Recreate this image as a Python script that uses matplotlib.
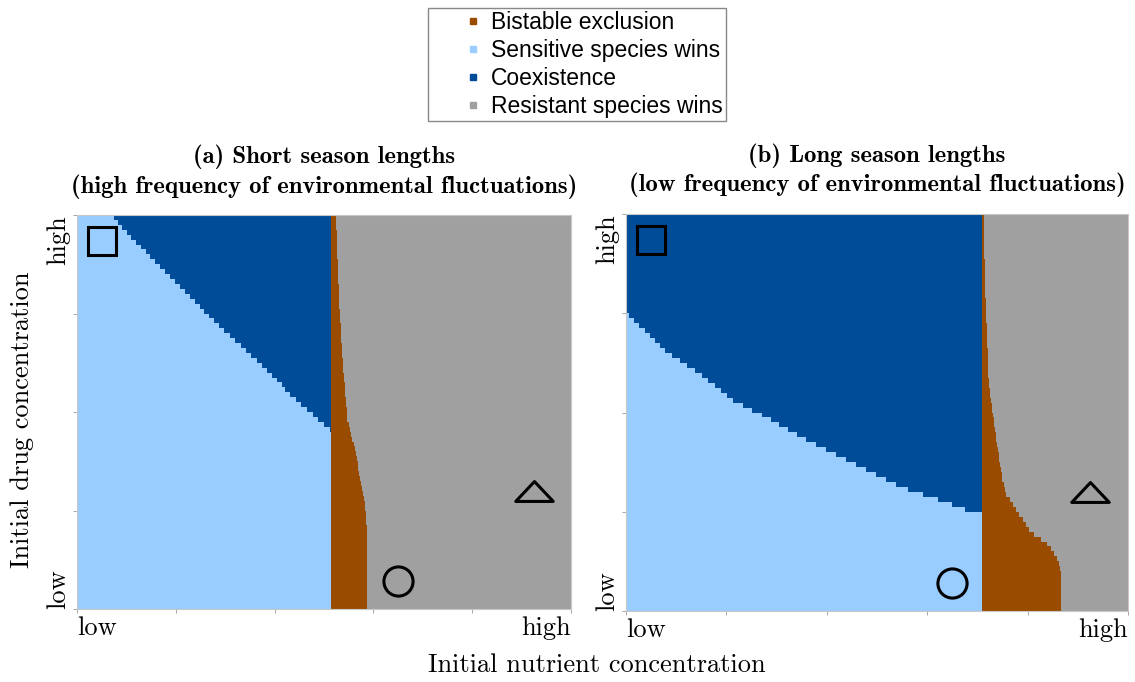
import numpy as np
import matplotlib.pyplot as plt
from matplotlib.colors import ListedColormap
from matplotlib.lines import Line2D
from matplotlib.path import Path

plt.rcParams['axes.formatter.use_mathtext'] = True

# outcome classes, in legend order
outcomes = ['Bistable exclusion', 'Sensitive species wins', 'Coexistence', 'Resistant species wins']
outcome_colors = ['#994c00', '#99ccff', '#004c99', '#a0a0a0']

panel_titles = ['(a) Short season lengths\n(high frequency of environmental fluctuations)',
                '(b) Long season lengths\n(low frequency of environmental fluctuations)']

# grid resolution of the parameter sweep (drug rows x nutrient columns)
n_drug, n_nutrient = 80, 500

# short seasons: lower edge of the coexistence region (nutrient -> drug)
coex_a_nutrient = [0.069, 0.101, 0.168, 0.235, 0.304, 0.370, 0.437, 0.506, 0.514]
coex_a_drug = [1.000, 0.957, 0.868, 0.784, 0.700, 0.624, 0.538, 0.462, 0.454]
# nutrient level above which the sensitive strain can no longer win
split_a = 0.514
# resistant-wins boundary (drug -> nutrient)
res_a_drug = [0.0, 0.175, 0.244, 0.327, 0.411, 0.480, 0.614, 0.784, 1.0]
res_a_nutrient = [0.589, 0.589, 0.585, 0.573, 0.561, 0.547, 0.538, 0.530, 0.524]

# long seasons
coex_b_nutrient = [0.0, 0.082, 0.147, 0.213, 0.281, 0.347, 0.412, 0.480, 0.546, 0.612, 0.679, 0.709]
coex_b_drug = [0.751, 0.652, 0.599, 0.531, 0.486, 0.438, 0.398, 0.355, 0.312, 0.285, 0.254, 0.244]
split_b = 0.709
res_b_drug = [0.0, 0.078, 0.111, 0.136, 0.171, 0.204, 0.247, 0.297, 0.330, 0.413, 0.499, 0.582,
              0.657, 0.783, 1.0]
res_b_nutrient = [0.865, 0.865, 0.861, 0.855, 0.835, 0.803, 0.781, 0.755, 0.749, 0.739, 0.729,
                  0.721, 0.719, 0.715, 0.711]

# example initial conditions marked on both panels
marker_nutrient = [0.05, 0.65, 0.925]
marker_drug = [0.935, 0.07, 0.30]
flat_triangle = Path([(-1, -0.53), (1, -0.53), (0, 0.53), (-1, -0.53)],
                     [Path.MOVETO, Path.LINETO, Path.LINETO, Path.CLOSEPOLY])
marker_shapes = ['s', 'o', flat_triangle]
marker_sizes = [20, 21, 27]


def outcome_grid(coex_x, coex_y, split, res_y, res_x):
    x = (np.arange(n_nutrient) + 0.5) / n_nutrient
    y = (np.arange(n_drug) + 0.5) / n_drug
    X, Y = np.meshgrid(x, y)
    coex_edge = np.interp(X, coex_x, coex_y)
    res_edge = np.interp(Y, res_y, res_x)
    grid = np.where(Y > coex_edge, 2, 1)
    grid = np.where(X >= split, 0, grid)
    grid = np.where(X >= res_edge, 3, grid)
    return grid


grids = [outcome_grid(coex_a_nutrient, coex_a_drug, split_a, res_a_drug, res_a_nutrient),
         outcome_grid(coex_b_nutrient, coex_b_drug, split_b, res_b_drug, res_b_nutrient)]

fig = plt.figure(figsize=(11.35, 6.82), dpi=100)
axes = [fig.add_axes([0.0678, 0.1070, 0.4352, 0.5777]),
        fig.add_axes([0.5515, 0.1041, 0.4423, 0.5821])]

cmap = ListedColormap(outcome_colors)
serif = 'cmr10'

for ax, grid, title in zip(axes, grids, panel_titles):
    ax.imshow(grid, cmap=cmap, vmin=-0.5, vmax=3.5, origin='lower', extent=[0, 1, 0, 1],
              aspect='auto', interpolation='nearest')
    for nx_, dy_, shp, ms in zip(marker_nutrient, marker_drug, marker_shapes, marker_sizes):
        ax.plot(nx_, dy_, marker=shp, markersize=ms, markerfacecolor='none',
                markeredgecolor='black', markeredgewidth=2.2, linestyle='none')
    ax.set_xlim(0, 1)
    ax.set_ylim(0, 1)
    for sp in ax.spines.values():
        sp.set_color('#c8c8c8')
        sp.set_linewidth(0.8)
    ax.tick_params(direction='out', length=3, width=0.6, color='#999999', pad=2)
    ax.set_xticks(np.linspace(0, 1, 6))
    ax.set_yticks(np.linspace(0, 1, 5))
    ax.set_xticklabels(['low', '', '', '', '', 'high'], fontsize=19, family=serif)
    ax.set_yticklabels(['low', '', '', '', 'high'], fontsize=19, family=serif, rotation=90)
    xl = ax.get_xticklabels()
    xl[0].set_ha('left')
    xl[-1].set_ha('right')
    yl = ax.get_yticklabels()
    yl[0].set_va('bottom')
    yl[-1].set_va('top')
    line1, line2 = title.split('\n')
    ax.text(0.5, 1.148, line1, transform=ax.transAxes, ha='center', va='center',
            fontsize=17.8, family='cmb10')
    ax.text(0.5, 1.073, line2, transform=ax.transAxes, ha='center', va='center',
            fontsize=17.8, family='cmb10')

fig.text(22 / 1135, 1 - 420 / 682, 'Initial drug concentration', rotation=90,
         ha='center', va='center', fontsize=19, family=serif)
fig.text(597 / 1135, 1 - 665 / 682, 'Initial nutrient concentration',
         ha='center', va='center', fontsize=19, family=serif)

handles = [Line2D([], [], marker='s', markersize=4.5, linestyle='none',
                  markerfacecolor=c, markeredgecolor=c) for c in outcome_colors]
fig.legend(handles, outcomes, loc='upper center', bbox_to_anchor=(577 / 1135, 1 - 8 / 682),
           prop={'family': 'Liberation Sans', 'size': 16.5}, frameon=True, fancybox=False,
           edgecolor='#888888', framealpha=1, borderpad=0.15, labelspacing=0.21,
           handlelength=3.65, handletextpad=-1.07, borderaxespad=0)

fig.savefig('out.png', dpi=100)
